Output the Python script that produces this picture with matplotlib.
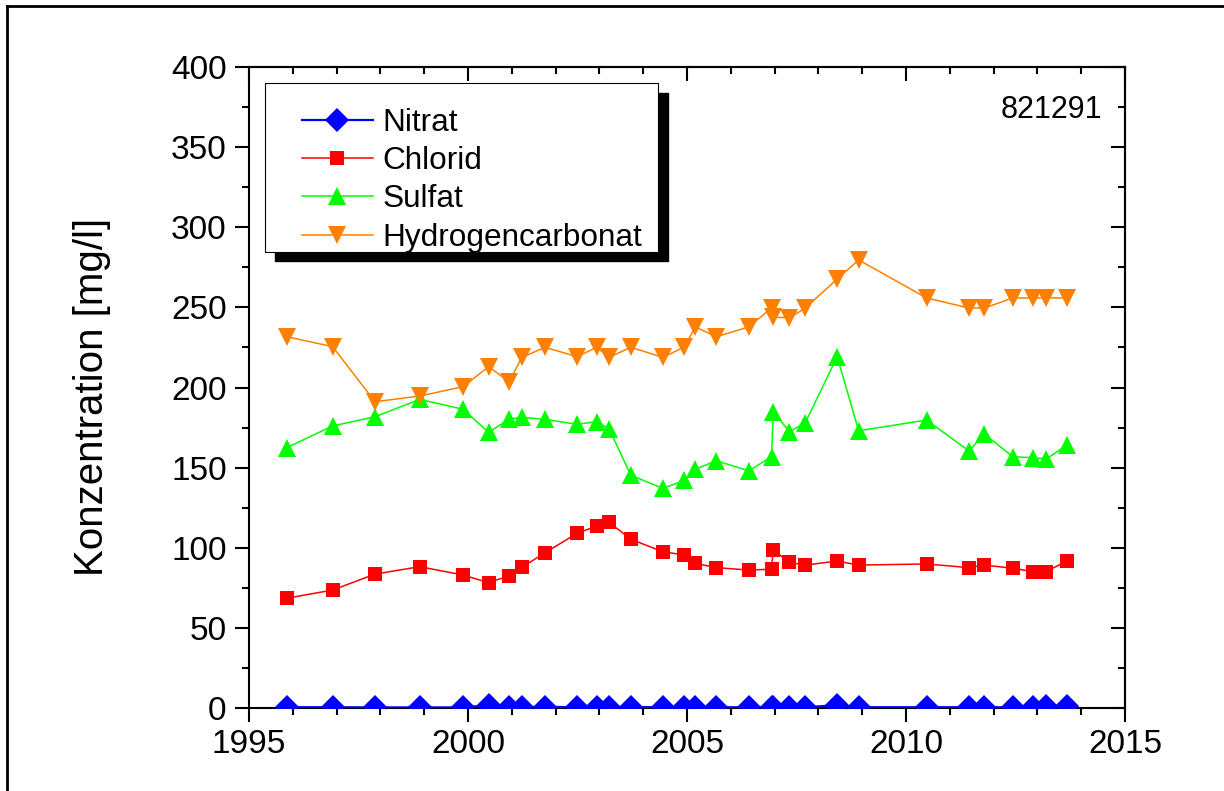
import matplotlib
matplotlib.use("Agg")
import matplotlib.pyplot as plt
from matplotlib.patches import Rectangle
from matplotlib.lines import Line2D
from matplotlib.ticker import MultipleLocator
from matplotlib.transforms import offset_copy

plt.rcParams['font.family'] = ['Liberation Sans', 'DejaVu Sans']

# Sampling dates (decimal years)
years = [1995.86, 1996.91, 1997.88, 1998.90, 1999.89, 2000.47, 2000.94, 2001.23,
         2001.76, 2002.49, 2002.94, 2003.22, 2003.72, 2004.45, 2004.94, 2005.19,
         2005.67, 2006.41, 2006.93, 2006.97, 2007.34, 2007.70, 2008.43, 2008.92,
         2010.47, 2011.44, 2011.79, 2012.44, 2012.91, 2013.19, 2013.68]

# Concentrations in mg/l
nitrat = [0.5, 0.5, 0.4, 0.4, 0.4, 1.8, 0.5, 0.5, 0.8, 0.5, 0.5, 0.5, 0.5, 0.6,
          0.5, 0.5, 0.5, 0.5, 0.5, 0.5, 0.5, 0.5, 1.8, 0.5, 0.5, 0.5, 0.5, 0.5,
          0.8, 1.0, 1.5]
chlorid = [68.5, 73.6, 83.6, 88.2, 83.0, 78.2, 82.6, 87.8, 96.9, 109.0, 113.6,
           115.9, 105.3, 97.5, 95.5, 90.3, 87.6, 86.1, 86.6, 98.6, 90.9, 89.2,
           91.7, 89.2, 89.9, 87.6, 89.2, 87.2, 85.1, 85.1, 91.7]
sulfat = [162.4, 176.0, 181.8, 192.6, 186.4, 172.0, 180.2, 181.4, 180.2, 177.0,
          178.7, 174.3, 145.2, 137.1, 142.0, 149.0, 154.3, 148.0, 156.8, 184.9,
          172.4, 178.0, 219.2, 173.0, 179.7, 160.4, 171.0, 156.8, 156.2, 155.2,
          164.1]
hydrogencarbonat = [231.7, 225.5, 191.1, 194.7, 200.5, 213.0, 203.6, 218.8,
                    225.1, 219.2, 225.1, 218.8, 225.1, 218.8, 225.3, 237.8,
                    231.7, 237.8, 249.6, 244.0, 243.4, 249.6, 267.7, 279.6,
                    255.9, 249.6, 249.6, 255.9, 255.9, 255.9, 255.9]

series_names = ["Nitrat", "Chlorid", "Sulfat", "Hydrogencarbonat"]
station_id = "821291"
y_label = "Konzentration [mg/l]"

fig = plt.figure(figsize=(12.24, 7.91), dpi=100)
ax = fig.add_axes([0.2034, 0.1049, 0.9191 - 0.2034, 0.9153 - 0.1049])

lw = 1.1
ax.plot(years, nitrat, color="#0000FF", lw=1.6, marker="D", ms=12.5, mew=0,
        label=series_names[0], zorder=3)
ax.plot(years, chlorid, color="#FF0000", lw=lw, marker="s", ms=9.8, mew=0,
        label=series_names[1], zorder=3)
ax.plot(years, sulfat, color="#00FF00", lw=lw, marker="^", ms=13.5, mew=0,
        label=series_names[2], zorder=3)
ax.plot(years, hydrogencarbonat, color="#FF8000", lw=lw, marker="v", ms=13.5,
        mew=0, label=series_names[3], zorder=3)

ax.set_xlim(1995, 2015)
ax.set_ylim(0, 400)
ax.xaxis.set_major_locator(MultipleLocator(5))
ax.xaxis.set_minor_locator(MultipleLocator(1))
ax.yaxis.set_major_locator(MultipleLocator(50))
ax.yaxis.set_minor_locator(MultipleLocator(25))

for s in ax.spines.values():
    s.set_linewidth(1.5)

ax.tick_params(which="both", direction="out", width=1.5, labelsize=24,
               top=False, right=False)
ax.tick_params(which="major", length=10)
ax.tick_params(which="minor", length=5)
ax.tick_params(axis="x", which="major", pad=5)
ax.tick_params(axis="y", which="major", pad=6)

# Inward ticks on the top and right edges
top = ax.secondary_xaxis("top")
top.xaxis.set_major_locator(MultipleLocator(5))
top.xaxis.set_minor_locator(MultipleLocator(1))
top.tick_params(which="both", direction="in", width=1.5, labeltop=False)
top.tick_params(which="major", length=10)
top.tick_params(which="minor", length=5)
right = ax.secondary_yaxis("right")
right.yaxis.set_major_locator(MultipleLocator(50))
right.yaxis.set_minor_locator(MultipleLocator(25))
right.tick_params(which="both", direction="in", width=1.5, labelright=False)
right.tick_params(which="major", length=10)
right.tick_params(which="minor", length=5)
for sec in (top, right):
    for s in sec.spines.values():
        s.set_linewidth(1.5)

ax.set_ylabel(y_label, fontsize=29)
ax.yaxis.set_label_coords(-0.1575, 0.486)

ax.text(0.9737, 0.933, station_id, transform=ax.transAxes, fontsize=22,
        ha="right", va="center")

# Legend frame with a solid drop shadow
box = (0.0186, 0.7119, 0.4672 - 0.0186, 0.9746 - 0.7119)
shadow_tr = offset_copy(ax.transAxes, fig=fig, x=9.5, y=-9.5, units="dots")
ax.add_patch(Rectangle(box[:2], box[2], box[3], transform=shadow_tr,
                       facecolor="black", edgecolor="black", zorder=4,
                       clip_on=False))
ax.add_patch(Rectangle(box[:2], box[2], box[3], transform=ax.transAxes,
                       facecolor="white", edgecolor="black", lw=0.8, zorder=4.5,
                       clip_on=False))
leg = ax.legend(loc="upper left", bbox_to_anchor=(0.0602, 0.936),
                frameon=False, fontsize=22.7, borderpad=0, borderaxespad=0,
                handlelength=2.25, handletextpad=0.31, labelspacing=0.26)
leg.set_zorder(5)

# Outer border lines of the figure
fig.add_artist(Line2D([7 / 1224, 7 / 1224], [0, 1 - 6 / 791],
                      transform=fig.transFigure, color="black", lw=2))
fig.add_artist(Line2D([7 / 1224, 1], [1 - 6 / 791, 1 - 6 / 791],
                      transform=fig.transFigure, color="black", lw=2))

fig.savefig("out.png", dpi=100)
